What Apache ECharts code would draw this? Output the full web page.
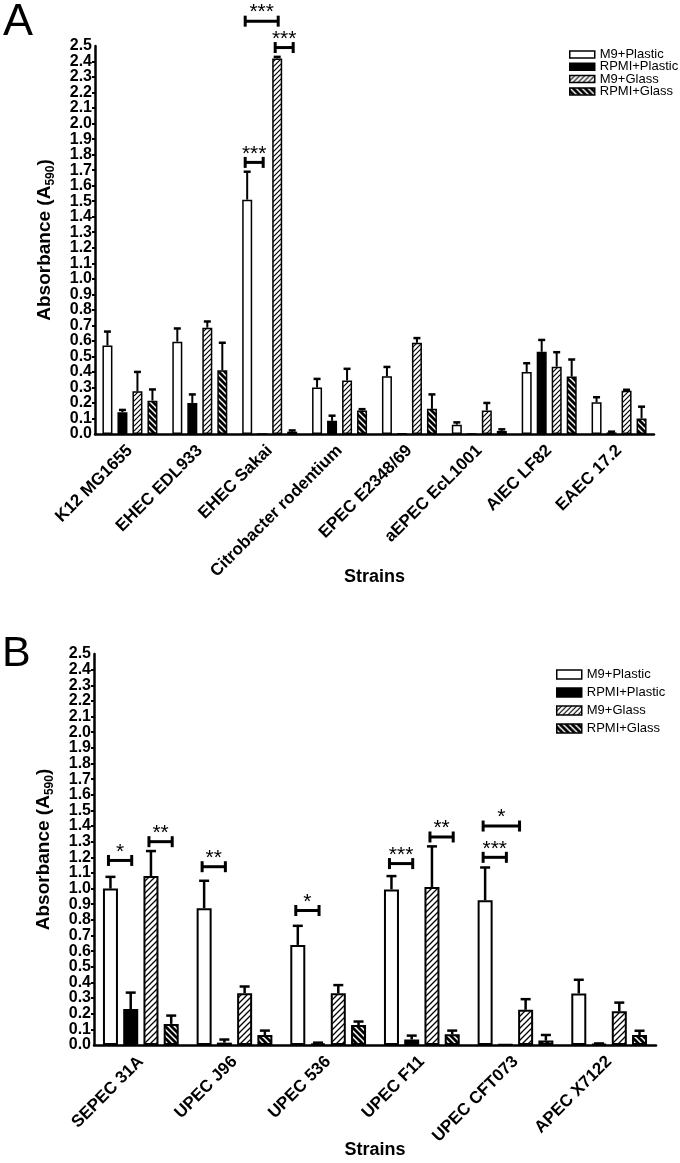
<!DOCTYPE html>
<html>
<head>
<meta charset="utf-8">
<script src="https://cdn.jsdelivr.net/npm/echarts@6/dist/echarts.min.js"></script>
<style>html,body{margin:0;padding:0;background:#fff}#c{width:680px;height:1163px}</style>
</head>
<body>
<div id="c"></div>
<script>
// ---------- DATA ----------
const seriesNames = ['M9+Plastic', 'RPMI+Plastic', 'M9+Glass', 'RPMI+Glass'];
const yTicks = { min: 0, max: 2.5, step: 0.1 };

// Panel A
const catsA = ['K12 MG1655', 'EHEC EDL933', 'EHEC Sakai', 'Citrobacter rodentium', 'EPEC E2348/69', 'aEPEC EcL1001', 'AIEC LF82', 'EAEC 17.2'];
const A_m9Plastic     = [0.57, 0.595, 1.51, 0.30, 0.372, 0.06, 0.40, 0.205];
const A_m9Plastic_e   = [0.09, 0.085, 0.18, 0.055, 0.06, 0.015, 0.056, 0.032];
const A_rpmiPlastic   = [0.14, 0.20, 0.0, 0.085, 0.003, 0.0, 0.53, 0.01];
const A_rpmiPlastic_e = [0.015, 0.055, 0.0, 0.033, 0.0, 0.0, 0.076, 0.005];
const A_m9Glass       = [0.275, 0.685, 2.42, 0.345, 0.588, 0.152, 0.434, 0.278];
const A_m9Glass_e     = [0.125, 0.04, 0.01, 0.075, 0.03, 0.048, 0.093, 0.007];
const A_rpmiGlass     = [0.215, 0.41, 0.015, 0.152, 0.162, 0.02, 0.37, 0.10];
const A_rpmiGlass_e   = [0.072, 0.178, 0.008, 0.008, 0.093, 0.01, 0.11, 0.076];
// significance brackets: [category index, from bar slot, to bar slot, y value, label]
const A_sig = [
  [2, 0, 1, 1.75, '***'],
  [2, 0, 2, 2.66, '***'],
  [2, 2, 3, 2.49, '***']
];

// Panel B
const catsB = ['SEPEC 31A', 'UPEC J96', 'UPEC 536', 'UPEC F11', 'UPEC CFT073', 'APEC X7122'];
const B_m9Plastic     = [1.00, 0.875, 0.64, 0.995, 0.925, 0.33];
const B_m9Plastic_e   = [0.075, 0.175, 0.122, 0.085, 0.21, 0.087];
const B_rpmiPlastic   = [0.23, 0.015, 0.008, 0.035, 0.003, 0.005];
const B_rpmiPlastic_e = [0.105, 0.02, 0.007, 0.025, 0.0, 0.005];
const B_m9Glass       = [1.08, 0.331, 0.331, 1.01, 0.225, 0.215];
const B_m9Glass_e     = [0.16, 0.043, 0.052, 0.26, 0.068, 0.056];
const B_rpmiGlass     = [0.135, 0.064, 0.128, 0.068, 0.028, 0.064];
const B_rpmiGlass_e   = [0.053, 0.028, 0.022, 0.024, 0.036, 0.027];
const B_sig = [
  [0, 0, 1, 1.18, '*'],
  [0, 2, 3, 1.30, '**'],
  [1, 0, 1, 1.14, '**'],
  [2, 0, 1, 0.86, '*'],
  [3, 0, 1, 1.16, '***'],
  [3, 2, 3, 1.33, '**'],
  [4, 0, 1, 1.20, '***'],
  [4, 0, 1.65, 1.40, '*']
];

// ---------- STYLE / LAYOUT ----------
const FONT = '"Liberation Sans", Arial, sans-serif';

function hatch(n, bg, fg, lw, dir) {
  const c = document.createElement('canvas');
  c.width = n; c.height = n;
  const g = c.getContext('2d');
  g.fillStyle = bg; g.fillRect(0, 0, n, n);
  g.strokeStyle = fg; g.lineWidth = lw; g.lineCap = 'square';
  g.beginPath();
  if (dir === '/') {
    g.moveTo(-1, 1); g.lineTo(1, -1);
    g.moveTo(-1, n + 1); g.lineTo(n + 1, -1);
    g.moveTo(n - 1, n + 1); g.lineTo(n + 1, n - 1);
  } else {
    g.moveTo(-1, -1); g.lineTo(n + 1, n + 1);
    g.moveTo(n - 1, -1); g.lineTo(n + 1, 1);
    g.moveTo(-1, n - 1); g.lineTo(1, n + 1);
  }
  g.stroke();
  return { image: c, repeat: 'repeat' };
}

const panels = [
  { cats: catsA, vals: [A_m9Plastic, A_rpmiPlastic, A_m9Glass, A_rpmiGlass],
    errs: [A_m9Plastic_e, A_rpmiPlastic_e, A_m9Glass_e, A_rpmiGlass_e], sig: A_sig,
    grid: { left: 95, right: 26, top: 46, bottom: 729 },
    bw: 10, gapPct: 50, border: 1.5, cap: 7, elw: 2, nameGapX: 134, labelMargin: 14,
    fills: ['#ffffff', '#000000', hatch(5, '#ffffff', '#000000', 1.2, '/'), hatch(6, '#000000', '#ffffff', 1.4, '\\')],
    legend: { left: 569, top: 48, ih: 7, lh: 11, gap: -0.7 } },
  { cats: catsB, vals: [B_m9Plastic, B_rpmiPlastic, B_m9Glass, B_rpmiGlass],
    errs: [B_m9Plastic_e, B_rpmiPlastic_e, B_m9Glass_e, B_rpmiGlass_e], sig: B_sig,
    grid: { left: 94, right: 24, top: 654, bottom: 118 },
    bw: 15, gapPct: 35, border: 2, cap: 10, elw: 2.5, nameGapX: 96, labelMargin: 14,
    fills: ['#ffffff', '#000000', hatch(6, '#ffffff', '#000000', 1.3, '/'), hatch(6, '#000000', '#ffffff', 1.5, '\\')],
    legend: { left: 556, top: 668, ih: 9, lh: 13, gap: 5 } }
];

const option = {
  animation: false,
  backgroundColor: '#ffffff',
  graphic: [
    { type: 'text', left: 3, top: 0, style: { text: 'A', font: '45px ' + FONT, fill: '#000' } },
    { type: 'text', left: 2, top: 633, style: { text: 'B', font: '43px ' + FONT, fill: '#000' } }
  ],
  grid: [], xAxis: [], yAxis: [], legend: [], series: []
};

const yLabelStyle = { color: '#000', fontSize: 16, fontWeight: 'bold', fontFamily: FONT };
const isEnd = v => Math.abs(v - yTicks.min) < 1e-9 || Math.abs(v - yTicks.max) < 1e-9;

panels.forEach((p, gi) => {
  option.grid.push(p.grid);
  option.xAxis.push({
    type: 'category', gridIndex: gi, data: p.cats,
    axisLine: { lineStyle: { color: '#000', width: 2.5 } },
    axisTick: { alignWithLabel: true, length: 5, lineStyle: { color: '#000', width: 2 } },
    axisLabel: { rotate: 45, interval: 0, margin: p.labelMargin, color: '#000', fontSize: 17, fontWeight: 'bold', fontFamily: FONT },
    name: 'Strains', nameLocation: 'middle', nameGap: p.nameGapX, nameMoveOverlap: false,
    nameTextStyle: { color: '#000', fontSize: 18, fontWeight: 'bold', fontFamily: FONT }
  });
  const yIdx = option.yAxis.length;
  // main value axis: line, ticks, inner labels
  option.yAxis.push({
    type: 'value', gridIndex: gi, position: 'left', offset: 0,
    min: yTicks.min, max: yTicks.max, interval: yTicks.step,
    splitLine: { show: false },
    axisLine: { show: true, lineStyle: { color: '#000', width: 2.5 } },
    axisTick: { show: true, length: 3, lineStyle: { color: '#000', width: 2 } },
    axisLabel: Object.assign({ margin: 3, showMinLabel: false, showMaxLabel: false, hideOverlap: false,
                 formatter: v => v.toFixed(1) }, yLabelStyle),
    name: '{m|Absorbance (A}{s|590}{m|)}', nameLocation: 'middle', nameGap: 38, nameRotate: 90, nameMoveOverlap: false,
    nameTextStyle: { rich: {
      m: { fontSize: 19, fontWeight: 'bold', fontFamily: FONT, color: '#000', lineHeight: 24 },
      s: { fontSize: 12, fontWeight: 'bold', fontFamily: FONT, color: '#000', lineHeight: 14, verticalAlign: 'bottom' }
    } }
  });
  // companion axis on the same scale carrying only the end labels (0.0 and 2.5)
  option.yAxis.push({
    type: 'value', gridIndex: gi, position: 'left', offset: 0,
    min: yTicks.min, max: yTicks.max, interval: yTicks.step,
    splitLine: { show: false }, axisLine: { show: false }, axisTick: { show: false },
    axisLabel: Object.assign({ margin: 3, showMinLabel: true, showMaxLabel: true, hideOverlap: false,
                 formatter: v => isEnd(v) ? v.toFixed(1) : '' }, yLabelStyle)
  });
  option.legend.push({
    data: seriesNames, orient: 'vertical', left: p.legend.left, top: p.legend.top, padding: 0,
    itemWidth: 25, itemHeight: p.legend.ih, itemGap: p.legend.gap, icon: 'rect', selectedMode: false,
    itemStyle: { borderColor: '#000', borderWidth: 1.5 },
    textStyle: { color: '#000', fontSize: 13, fontFamily: FONT, lineHeight: p.legend.lh }
  });
  const pitch = p.bw * (1 + p.gapPct / 100);
  seriesNames.forEach((nm, si) => {
    option.series.push({
      type: 'bar', name: nm, xAxisIndex: gi, yAxisIndex: yIdx,
      data: p.vals[si], barWidth: p.bw, barGap: p.gapPct + '%',
      itemStyle: { color: p.fills[si], borderColor: '#000', borderWidth: p.border },
      z: 2
    });
  });
  // error bars
  const errData = [];
  p.vals.forEach((arr, si) => arr.forEach((v, ci) => errData.push([ci, si, v, p.errs[si][ci]])));
  option.series.push({
    type: 'custom', name: 'err' + gi, xAxisIndex: gi, yAxisIndex: yIdx, z: 5, clip: false,
    encode: { x: 0, y: 2 }, data: errData, silent: true,
    renderItem: (params, api) => {
      const ci = api.value(0), si = api.value(1), v = api.value(2), e = api.value(3);
      if (!(e > 0)) return null;
      const p0 = api.coord([ci, v]), p1 = api.coord([ci, v + e]);
      const x = p0[0] + (si - 1.5) * pitch;
      return { type: 'group', children: [
        { type: 'line', shape: { x1: x, y1: p0[1], x2: x, y2: p1[1] }, style: { stroke: '#000', lineWidth: p.elw } },
        { type: 'line', shape: { x1: x - p.cap / 2, y1: p1[1], x2: x + p.cap / 2, y2: p1[1] }, style: { stroke: '#000', lineWidth: 2.5 } }
      ] };
    }
  });
  // significance brackets
  option.series.push({
    type: 'custom', name: 'sig' + gi, xAxisIndex: gi, yAxisIndex: yIdx, z: 6, clip: false,
    encode: { x: 0, y: 3 }, data: p.sig, silent: true,
    renderItem: (params, api) => {
      const d = p.sig[params.dataIndex];
      const c = api.coord([d[0], d[3]]);
      const x1 = c[0] + (d[1] - 1.5) * pitch - 2, x2 = c[0] + (d[2] - 1.5) * pitch + 1;
      const y = c[1];
      return { type: 'group', children: [
        { type: 'line', shape: { x1: x1, y1: y, x2: x2, y2: y }, style: { stroke: '#000', lineWidth: 3 } },
        { type: 'line', shape: { x1: x1, y1: y - 5.5, x2: x1, y2: y + 5.5 }, style: { stroke: '#000', lineWidth: 3 } },
        { type: 'line', shape: { x1: x2, y1: y - 5.5, x2: x2, y2: y + 5.5 }, style: { stroke: '#000', lineWidth: 3 } },
        { type: 'text', style: { text: d[4], x: (x1 + x2) / 2, y: y + 2, align: 'center', verticalAlign: 'bottom',
          font: '21px ' + FONT, fill: '#000' } }
      ] };
    }
  });
});

const chart = echarts.init(document.getElementById('c'), null, { renderer: 'canvas' });
chart.setOption(option);
</script>
</body>
</html>
